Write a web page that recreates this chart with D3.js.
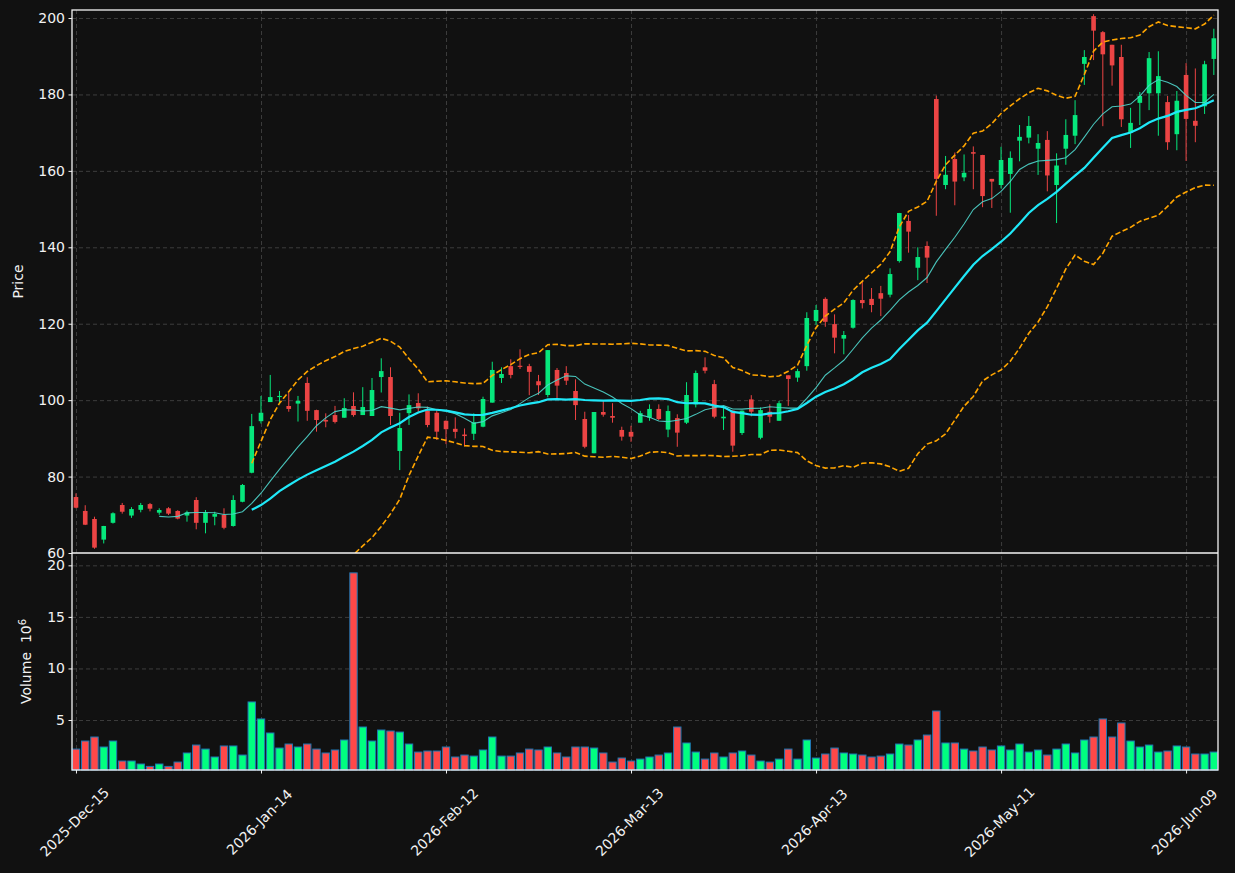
<!DOCTYPE html>
<html>
<head>
<meta charset="utf-8">
<script src="https://cdn.jsdelivr.net/npm/d3@7"></script>
<style>
  body { margin: 0; background: #111111; }
  svg { display: block; font-family: "DejaVu Sans", sans-serif; }
</style>
</head>
<body>
<div id="chart"></div>
<script>
// OHLC, one value per trading day (index 0 = 2025-Dec-15)
const opens = [
  74.65, 71.0, 68.9, 63.5, 67.9, 72.56, 69.8, 71.3, 72.8, 70.55,
  71.7, 71.0, 69.8, 73.87, 67.9, 69.5, 70.0, 67.07, 73.4, 81.0,
  94.5, 99.5, 100.8, 98.47, 99.1, 104.5, 97.4, 94.8, 96.1, 95.4,
  98.47, 96.1, 95.85, 106.05, 106.05, 86.7, 96.6, 99.25, 97.25, 96.7,
  94.6, 92.5, 91.0, 91.2, 93.05, 99.35, 105.8, 108.9, 109.0, 108.9,
  104.95, 101.35, 107.9, 107.1, 102.4, 95.07, 86.1, 96.9, 95.85, 92.2,
  91.7, 94.1, 95.4, 97.7, 92.3, 95.3, 94.1, 98.9, 108.6, 104.2,
  95.25, 97.25, 91.4, 100.2, 90.15, 96.97, 94.6, 106.5, 105.9, 108.9,
  120.7, 126.5, 119.9, 116.1, 118.95, 126.2, 126.5, 128.0, 127.6, 136.4,
  146.9, 134.65, 140.35, 178.8, 156.3, 163.1, 158.3, 164.9, 164.15, 157.9,
  156.3, 159.2, 167.9, 168.7, 165.8, 168.1, 156.3, 165.8, 169.2, 188.0,
  200.5, 196.3, 193.0, 189.8, 169.95, 177.8, 180.3, 180.3, 178.0, 169.6,
  185.1, 173.1, 176.9, 189.3
];
const highs = [
  75.6, 72.5, 69.5, 67.1, 70.65, 73.1, 72.0, 73.1, 73.1, 71.7,
  72.0, 71.2, 71.07, 74.6, 71.25, 70.8, 71.7, 75.1, 78.06, 96.4,
  101.1, 106.6, 102.4, 101.95, 101.1, 106.0, 97.5, 96.55, 98.5, 100.5,
  102.05, 103.4, 105.8, 110.95, 108.6, 96.7, 101.5, 101.8, 98.3, 97.4,
  94.7, 95.5, 92.6, 96.55, 100.9, 110.05, 108.6, 110.7, 113.3, 109.5,
  106.6, 113.1, 108.4, 108.9, 105.45, 96.97, 96.9, 99.8, 99.2, 93.05,
  93.3, 97.2, 98.9, 98.9, 98.6, 96.3, 104.7, 107.75, 111.2, 105.3,
  98.0, 97.3, 97.3, 101.3, 98.1, 98.9, 99.8, 106.5, 108.2, 123.0,
  124.9, 126.9, 122.45, 118.1, 126.4, 130.9, 129.35, 129.9, 134.5, 149.0,
  148.45, 140.0, 141.55, 179.7, 163.9, 164.8, 164.3, 166.4, 164.2, 157.9,
  166.3, 165.1, 172.0, 174.35, 169.6, 170.4, 164.6, 173.5, 178.5, 191.6,
  201.0, 196.6, 193.0, 193.0, 176.5, 180.65, 191.1, 191.3, 179.6, 180.9,
  188.2, 186.8, 188.8, 197.2
];
const lows = [
  71.7, 67.3, 61.1, 62.5, 67.7, 70.3, 69.2, 70.65, 70.9, 70.0,
  69.95, 68.8, 68.2, 66.2, 65.15, 67.25, 66.2, 66.9, 73.27, 80.86,
  93.9, 99.5, 99.2, 96.97, 94.4, 94.6, 91.75, 92.9, 93.9, 95.4,
  95.67, 96.1, 95.85, 102.0, 93.5, 81.7, 93.5, 96.97, 92.9, 89.57,
  88.5, 90.0, 87.9, 89.57, 92.9, 99.35, 104.5, 105.7, 108.15, 101.3,
  101.35, 100.75, 100.5, 103.96, 94.8, 87.4, 86.1, 95.67, 94.1, 89.4,
  89.1, 94.1, 94.6, 94.8, 90.3, 87.8, 93.75, 98.1, 107.0, 95.25,
  92.2, 86.5, 90.9, 95.77, 89.75, 94.1, 94.6, 98.5, 104.8, 107.7,
  119.7, 119.2, 112.25, 112.0, 118.7, 124.0, 123.0, 122.0, 126.9, 136.0,
  138.6, 131.4, 130.65, 148.25, 155.2, 151.0, 157.3, 155.2, 150.5, 150.3,
  155.4, 149.05, 162.5, 167.2, 158.95, 154.65, 146.35, 161.6, 167.0, 182.5,
  189.0, 171.7, 182.3, 171.5, 166.0, 172.0, 175.9, 169.2, 165.5, 165.4,
  162.6, 167.5, 174.9, 185.1
];
const closes = [
  71.85, 67.4, 61.4, 67.07, 70.4, 70.8, 71.5, 72.56, 71.6, 71.25,
  70.3, 69.0, 70.65, 67.9, 70.55, 70.2, 66.6, 73.87, 77.8, 93.2,
  96.7, 100.8, 101.1, 97.7, 99.8, 97.2, 94.8, 94.4, 94.3, 97.95,
  96.1, 98.2, 102.65, 107.6, 95.85, 92.7, 98.7, 97.85, 93.5, 91.75,
  92.4, 91.7, 90.6, 94.2, 100.3, 107.9, 106.84, 106.6, 108.7, 107.4,
  103.9, 113.1, 103.8, 105.1, 98.7, 87.8, 96.9, 96.2, 95.4, 90.45,
  90.45, 96.6, 97.7, 95.07, 97.15, 91.5, 101.35, 107.1, 107.7, 95.67,
  95.67, 88.1, 97.25, 96.97, 97.4, 95.67, 99.2, 105.55, 107.6, 121.5,
  123.6, 120.5, 116.35, 117.05, 126.2, 125.4, 124.9, 126.55, 133.0, 148.97,
  144.1, 137.45, 137.3, 157.9, 158.97, 157.2, 159.5, 164.5, 153.4, 157.2,
  162.85, 163.4, 168.9, 171.75, 167.3, 158.8, 161.4, 169.4, 174.6, 189.8,
  196.7, 190.5, 187.6, 173.5, 172.56, 179.6, 189.5, 184.8, 167.5, 178.35,
  173.6, 171.8, 187.9, 194.7
];
// volume in millions
const volumes = [
  2.18, 2.96, 3.35, 2.38, 2.96, 1.02, 1.02, 0.73, 0.50, 0.73,
  0.50, 0.92, 1.80, 2.57, 2.18, 1.41, 2.48, 2.48, 1.60, 6.75,
  5.10, 3.74, 2.28, 2.67, 2.38, 2.67, 2.18, 1.80, 2.09, 3.06,
  19.27, 4.32, 2.96, 4.03, 3.93, 3.83, 2.67, 1.89, 1.99, 1.99,
  2.38, 1.41, 1.60, 1.50, 2.09, 3.35, 1.50, 1.50, 1.80, 2.18,
  2.09, 2.38, 1.80, 1.41, 2.38, 2.38, 2.28, 1.80, 0.92, 1.31,
  1.02, 1.21, 1.41, 1.60, 1.80, 4.32, 2.77, 1.89, 1.21, 1.80,
  1.41, 1.80, 1.99, 1.60, 1.02, 0.92, 1.21, 2.18, 1.21, 3.06,
  1.31, 1.70, 2.28, 1.80, 1.70, 1.60, 1.41, 1.50, 1.70, 2.67,
  2.57, 3.06, 3.54, 5.87, 2.77, 2.77, 2.18, 1.99, 2.38, 2.09,
  2.48, 2.09, 2.67, 1.89, 2.09, 1.60, 2.18, 2.67, 1.80, 3.06,
  3.35, 5.10, 3.35, 4.71, 2.96, 2.38, 2.57, 1.89, 1.99, 2.48,
  2.38, 1.70, 1.70, 1.89
];

const tickIndex = [0, 20, 40, 60, 80, 100, 120];
const tickLabels = ['2025-Dec-15', '2026-Jan-14', '2026-Feb-12', '2026-Mar-13', '2026-Apr-13', '2026-May-11', '2026-Jun-09'];
const priceTicks = [60, 80, 100, 120, 140, 160, 180, 200];
const volumeTicks = [5, 10, 15, 20];

const width = 1235;
const height = 873;
const left = 72, right = 1218;
const priceTop = 10, priceBottom = 553;
const volTop = 553, volBottom = 770;

const upCandle = '#06e77c';
const downCandle = '#ec4444';
const upVol = '#00ff80';
const downVol = '#ff4848';
const textColor = '#f2f2f2';
const spineColor = '#f4f4f4';
const gridColor = '#484848';

// rolling helpers (moving average / bollinger from the closes)
function rolling(values, n, fn) {
    return values.map((v, i) => i < n - 1 ? null : fn(values.slice(i - n + 1, i + 1)));
}
const ma10 = rolling(closes, 10, (w) => d3.mean(w));
const ma20 = rolling(closes, 20, (w) => d3.mean(w));
const sd20 = rolling(closes, 20, (w) => d3.deviation(w));
const upperBand = ma20.map((m, i) => m == null ? null : m + 2 * sd20[i]);
const lowerBand = ma20.map((m, i) => m == null ? null : m - 2 * sd20[i]);

const svg = d3.select('#chart')
    .append('svg')
    .attr('width', width)
    .attr('height', height);

svg.append('rect').attr('width', width).attr('height', height).attr('fill', '#111111');

const xScale = d3.scaleLinear().domain([-0.43, 123.45]).range([left, right]);
const yPrice = d3.scaleLinear().domain([60, 202.1]).range([priceBottom, priceTop]);
const yVol = d3.scaleLinear()
    .domain([0.3 * d3.min(volumes), 1.1 * d3.max(volumes)])
    .range([volBottom, volTop]);

const unit = xScale(1) - xScale(0);

// gridlines
function styleGrid(g) {
    g.select('.domain').remove();
    g.selectAll('line')
        .attr('stroke', gridColor)
        .attr('stroke-width', 0.8)
        .attr('stroke-dasharray', '4,3');
}
svg.append('g')
    .attr('transform', `translate(${left}, 0)`)
    .call(d3.axisLeft(yPrice).tickValues(priceTicks.slice(1)).tickFormat('').tickSize(-(right - left)))
    .call(styleGrid);
svg.append('g')
    .attr('transform', `translate(${left}, 0)`)
    .call(d3.axisLeft(yVol).tickValues(volumeTicks).tickFormat('').tickSize(-(right - left)))
    .call(styleGrid);
svg.append('g')
    .attr('transform', `translate(0, ${priceBottom})`)
    .call(d3.axisBottom(xScale).tickValues(tickIndex).tickFormat('').tickSize(-(priceBottom - priceTop)))
    .call(styleGrid);
svg.append('g')
    .attr('transform', `translate(0, ${volBottom})`)
    .call(d3.axisBottom(xScale).tickValues(tickIndex).tickFormat('').tickSize(-(volBottom - volTop)))
    .call(styleGrid);

// clip for the price panel
svg.append('clipPath').attr('id', 'price-clip')
    .append('rect')
    .attr('x', left).attr('y', priceTop)
    .attr('width', right - left).attr('height', priceBottom - priceTop);

const pricePanel = svg.append('g').attr('clip-path', 'url(#price-clip)');

const candles = pricePanel.append('g')
    .selectAll('g')
    .data(closes.map((c, i) => ({ i, o: opens[i], h: highs[i], l: lows[i], c })))
    .join('g');

candles.append('line')
    .attr('x1', (d) => xScale(d.i))
    .attr('x2', (d) => xScale(d.i))
    .attr('y1', (d) => yPrice(d.h))
    .attr('y2', (d) => yPrice(d.l))
    .attr('stroke', (d) => d.c >= d.o ? upCandle : downCandle)
    .attr('stroke-width', 1);

candles.append('rect')
    .attr('x', (d) => xScale(d.i) - unit * 0.25)
    .attr('width', unit * 0.5)
    .attr('y', (d) => yPrice(Math.max(d.o, d.c)))
    .attr('height', (d) => Math.max(1, Math.abs(yPrice(d.o) - yPrice(d.c))))
    .attr('fill', (d) => d.c >= d.o ? upCandle : downCandle);

const line = d3.line()
    .defined((d) => d != null)
    .x((d, i) => xScale(i))
    .y((d) => yPrice(d));

pricePanel.append('path').datum(ma10)
    .attr('d', line).attr('fill', 'none')
    .attr('stroke', '#4fd6cc').attr('stroke-opacity', 0.9).attr('stroke-width', 1.1);
pricePanel.append('path').datum(ma20)
    .attr('d', line).attr('fill', 'none')
    .attr('stroke', '#1fe8f8').attr('stroke-width', 2.2);
[upperBand, lowerBand].forEach((band) => {
    pricePanel.append('path').datum(band)
        .attr('d', line).attr('fill', 'none')
        .attr('stroke', '#ffa500').attr('stroke-width', 1.6)
        .attr('stroke-dasharray', '5.5,2.5');
});

// volume bars
svg.append('g')
    .selectAll('rect')
    .data(volumes)
    .join('rect')
    .attr('x', (d, i) => xScale(i) - unit * 0.4)
    .attr('width', unit * 0.8)
    .attr('y', (d) => yVol(d))
    .attr('height', (d) => volBottom - yVol(d))
    .attr('fill', (d, i) => closes[i] >= opens[i] ? upVol : downVol)
    .attr('stroke', '#1f77b4')
    .attr('stroke-width', 1);

// axes
function styleAxis(g) {
    g.select('.domain').remove();
    g.selectAll('line').attr('stroke', spineColor);
    g.selectAll('text').attr('fill', textColor).style('font-size', '14px').style('font-family', '"DejaVu Sans", sans-serif');
}
svg.append('g')
    .attr('transform', `translate(${left}, 0)`)
    .call(d3.axisLeft(yPrice).tickValues(priceTicks).tickSize(3.5).tickPadding(3.5))
    .call(styleAxis);
svg.append('g')
    .attr('transform', `translate(${left}, 0)`)
    .call(d3.axisLeft(yVol).tickValues(volumeTicks).tickSize(3.5).tickPadding(3.5))
    .call(styleAxis);

svg.append('g')
    .attr('transform', `translate(0, ${volBottom})`)
    .call(d3.axisBottom(xScale).tickValues(tickIndex).tickSize(3.5).tickFormat(''))
    .call(styleAxis);

svg.append('g')
    .selectAll('text')
    .data(tickIndex)
    .join('text')
    .attr('transform', (d) => `translate(${xScale(d) - 1.5}, 822) rotate(-45)`)
    .attr('text-anchor', 'middle')
    .attr('dy', '0.35em')
    .attr('fill', textColor)
    .style('font-size', '14px')
    .text((d, i) => tickLabels[i]);

// spines
svg.append('rect')
    .attr('x', left).attr('y', priceTop)
    .attr('width', right - left).attr('height', volBottom - priceTop)
    .attr('fill', 'none').attr('stroke', spineColor).attr('stroke-width', 1.3);
svg.append('line')
    .attr('x1', left).attr('x2', right)
    .attr('y1', priceBottom).attr('y2', priceBottom)
    .attr('stroke', spineColor).attr('stroke-width', 1.3);

// axis labels
svg.append('text')
    .attr('transform', `translate(18, ${(priceTop + priceBottom) / 2}) rotate(-90)`)
    .attr('text-anchor', 'middle')
    .attr('dy', '0.35em')
    .attr('fill', textColor)
    .style('font-size', '14px')
    .text('Price');

const volLabel = svg.append('text')
    .attr('transform', `translate(26, ${(volTop + volBottom) / 2}) rotate(-90)`)
    .attr('text-anchor', 'middle')
    .attr('dy', '0.35em')
    .attr('fill', textColor)
    .style('font-size', '14px');
volLabel.append('tspan').text('Volume\u00a0\u00a010');
volLabel.append('tspan').attr('dy', '-0.45em').style('font-size', '10px').text('6');
</script>
</body>
</html>
